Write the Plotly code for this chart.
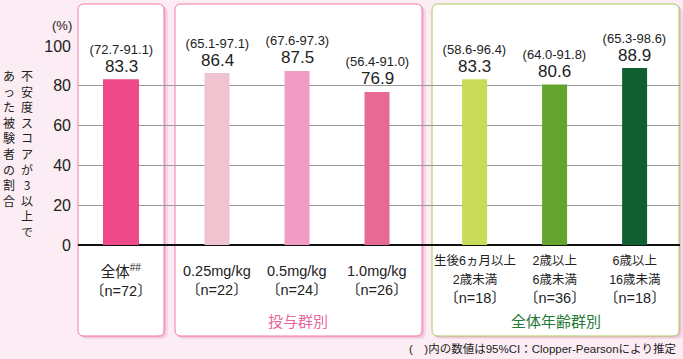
import plotly.graph_objects as go

# ---- data ----
cat_latin = ["全体<sup>##</sup>", "0.25mg/kg", "0.5mg/kg", "1.0mg/kg", None, None, None]
cat_jp = [None, None, None, None, "生後6ヵ月以上<br>2歳未満", "2歳以上<br>6歳未満", "6歳以上<br>16歳未満"]
cat_n = ["〔n=72〕", "〔n=22〕", "〔n=24〕", "〔n=26〕", "〔n=18〕", "〔n=36〕", "〔n=18〕"]
values = [83.3, 86.4, 87.5, 76.9, 83.3, 80.6, 88.9]
ci_low = [72.7, 65.1, 67.6, 56.4, 58.6, 64.0, 65.3]
ci_high = [91.1, 97.1, 97.3, 91.0, 96.4, 91.8, 98.6]
group_labels = ["投与群別", "全体年齢群別"]
y_ticks = [0, 20, 40, 60, 80, 100]
y_title_right = "不安度スコアが3以上で"
y_title_left = "あった被験者の割合"

# ---- style / layout ----
xpos = [0, 1.2, 2.2, 3.2, 4.42, 5.42, 6.42]
widths = [0.45, 0.3125, 0.3125, 0.3125, 0.3125, 0.3125, 0.3125]
colors = ["#ee4a8a", "#f0c3d0", "#f09cc4", "#e76a95", "#c8dc5a", "#64a32e", "#0f5f30"]

W, H = 683, 359
L, R, T, B = 78, 3, 46, 114
PW, PH = W - L - R, H - T - B
NUM = "Liberation Sans Narrow, Arial Narrow, Liberation Sans, Noto Sans CJK JP, sans-serif"
JP = "Noto Sans CJK JP, sans-serif"
BG = "#fcedf4"


def X(px):
    return (px - L) / PW


def Y(py):
    return (T + PH - py) / PH


def rr(x0, y0, x1, y1, r):
    return (f"M {X(x0+r)},{Y(y0)} L {X(x1-r)},{Y(y0)} Q {X(x1)},{Y(y0)} {X(x1)},{Y(y0+r)} "
            f"L {X(x1)},{Y(y1-r)} Q {X(x1)},{Y(y1)} {X(x1-r)},{Y(y1)} "
            f"L {X(x0+r)},{Y(y1)} Q {X(x0)},{Y(y1)} {X(x0)},{Y(y1-r)} "
            f"L {X(x0)},{Y(y0+r)} Q {X(x0)},{Y(y0)} {X(x0+r)},{Y(y0)} Z")


fig = go.Figure()
fig.add_trace(go.Bar(x=xpos, y=values, width=widths, marker=dict(color=colors, line=dict(width=0)),
                     hoverinfo="skip"))

shapes = []
panels = [(78, 4, 164, 336, "#f27aa9"), (175, 4, 422, 336, "#f27aa9"), (432, 4, 679, 336, "#a9c95a")]
for (x0, y0, x1, y1, bc) in panels:
    shapes.append(dict(type="path", path=rr(x0 + 3, y0 + 3, x1 + 4, y1 + 3, 6), xref="paper", yref="paper",
                       fillcolor="rgba(238,190,212,0.45)", line=dict(width=0), layer="below"))
    shapes.append(dict(type="path", path=rr(x0 + 1, y0 + 1, x1 + 2, y1 + 1.5, 6), xref="paper", yref="paper",
                       fillcolor="rgba(232,170,200,0.55)", line=dict(width=0), layer="below"))
    shapes.append(dict(type="path", path=rr(x0, y0, x1, y1, 6), xref="paper", yref="paper",
                       fillcolor="white", line=dict(color=bc, width=1), layer="below"))

ann = []


def A(**kw):
    kw.setdefault("showarrow", False)
    kw.setdefault("xanchor", "center")
    kw.setdefault("yanchor", "middle")
    ann.append(kw)


for xp, v, lo, hi in zip(xpos, values, ci_low, ci_high):
    A(x=xp, y=v, xref="x", yref="y", text=f"{v:.1f}", yshift=13,
      font=dict(family=NUM, size=17, color="#222"))
    A(x=xp, y=v, xref="x", yref="y", text=f"\u00a0({lo:.1f}-{hi:.1f})\u00a0", yshift=30,
      bgcolor="white", borderpad=0, borderwidth=0, font=dict(family=NUM, size=13, color="#222"))

for xp, la, jp, n in zip(xpos, cat_latin, cat_jp, cat_n):
    parts = []
    if la:
        parts.append(la)
    if jp:
        parts.append(f"<span style='font-size:12.5px'>{jp}</span>")
    parts.append(n)
    A(x=xp, y=Y(280), xref="x", yref="paper", text="<br>".join(parts), align="center",
      font=dict(family=NUM, size=14.5, color="#222"))

A(x=X(298), y=Y(320), xref="paper", yref="paper", text=group_labels[0],
  font=dict(family=JP, size=15, color="#e8679c"))
A(x=X(556), y=Y(320), xref="paper", yref="paper", text=group_labels[1],
  font=dict(family=JP, size=15, color="#1f7a35"))
A(x=X(678), y=Y(348), xref="paper", yref="paper", xanchor="right",
  text="(\u3000)内の数値は95%CI：Clopper-Pearsonにより推定",
  font=dict(family=NUM, size=11.5, color="#222"))
A(x=X(62), y=Y(25), xref="paper", yref="paper", text="(%)",
  font=dict(family=NUM, size=13, color="#222"))

A(x=X(26.5), y=Y(65), xref="paper", yref="paper", yanchor="top", text="<br>".join(y_title_right),
  font=dict(family=JP, size=12, color="#222"))
A(x=X(8.5), y=Y(65), xref="paper", yref="paper", yanchor="top", text="<br>".join(y_title_left),
  font=dict(family=JP, size=12, color="#222"))

fig.update_layout(
    width=W, height=H, margin=dict(l=L, r=R, t=T, b=B),
    paper_bgcolor=BG, plot_bgcolor="rgba(0,0,0,0)",
    showlegend=False, shapes=shapes, annotations=ann,
    xaxis=dict(range=[-0.5375, -0.5375 + PW / 80], showticklabels=False, showgrid=False,
               zeroline=False, showline=False, fixedrange=True),
    yaxis=dict(range=[0, 100], tickvals=y_ticks, showgrid=True, gridcolor="#9a9a9a", gridwidth=1,
               zeroline=True, zerolinecolor="#111", zerolinewidth=1.5, showline=False, ticks="",
               ticklabelstandoff=6, tickfont=dict(family=NUM, size=16, color="#222"), fixedrange=True),
)
fig.write_html("out.html")
